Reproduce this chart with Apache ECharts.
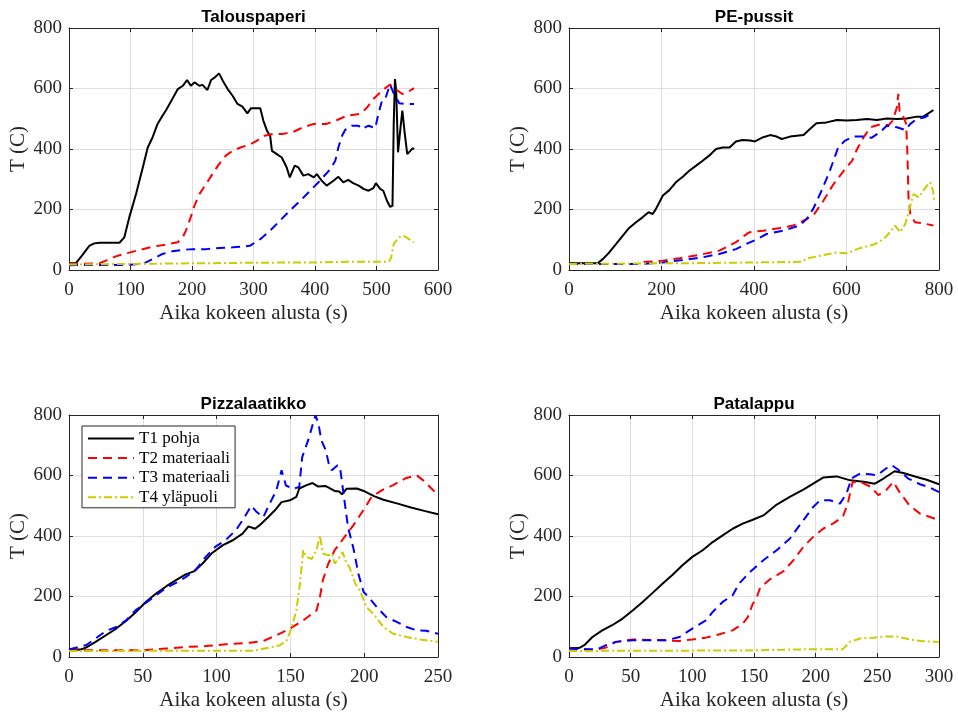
<!DOCTYPE html>
<html>
<head>
<meta charset="utf-8">
<script src="https://cdn.jsdelivr.net/npm/echarts@6/dist/echarts.min.js"></script>
<style>html,body{margin:0;padding:0;background:#fff}#c{width:958px;height:712px}</style>
</head>
<body>
<div id="c"></div>
<script>
// ---- data ----
const seriesNames = ['T1 pohja', 'T2 materiaali', 'T3 materiaali', 'T4 yläpuoli'];
const plotTitles = ['Talouspaperi', 'PE-pussit', 'Pizzalaatikko', 'Patalappu'];
const xMax = [600, 800, 250, 300];
const xInterval = [100, 200, 50, 50];
const yTicks = [0, 200, 400, 600, 800];

const taloT1 = [[0,22],[11,22],[22,50],[33,80],[41,88],[50,90],[82,90],[90,108],[98,174],[109,251],[120,339],[128,405],[136,439],[144,483],[152,510],[158,529],[168,565],[177,598],[185,609],[192,628],[198,609],[204,620],[212,609],[217,612],[225,595],[231,628],[236,635],[244,650],[250,626],[258,598],[266,576],[274,549],[282,540],[290,518],[296,535],[311,535],[316,494],[322,460],[327,444],[330,394],[338,383],[346,372],[354,339],[359,306],[367,345],[373,339],[381,312],[389,317],[398,306],[403,317],[411,295],[419,279],[430,295],[438,308],[446,290],[454,298],[462,287],[471,279],[479,268],[487,262],[495,271],[499,287],[506,268],[511,262],[517,229],[522,209],[526,212],[528,483],[530,631],[532,593],[535,389],[538,450],[542,527],[546,450],[550,383],[555,394],[559,403],[561,399]];
const taloT2 = [[0,20],[49,22],[60,31],[76,45],[93,55],[114,66],[136,77],[158,84],[177,92],[185,108],[190,130],[196,163],[204,213],[212,251],[223,284],[233,317],[244,350],[255,378],[266,394],[279,405],[294,415],[305,427],[318,444],[332,450],[348,450],[365,457],[381,472],[398,483],[419,483],[436,496],[452,510],[474,516],[485,538],[495,565],[509,593],[522,613],[531,598],[542,582],[550,587],[561,601]];
const taloT3 = [[0,16],[100,17],[122,22],[136,36],[152,53],[168,62],[182,66],[201,69],[223,69],[244,73],[266,75],[282,77],[294,80],[311,102],[327,130],[343,163],[359,196],[376,229],[392,262],[408,295],[425,334],[433,361],[438,405],[444,444],[449,463],[460,477],[471,477],[476,466],[487,477],[498,469],[503,516],[509,560],[514,565],[522,613],[528,584],[537,551],[547,549],[561,549]];
const taloT4 = [[0,18],[100,20],[200,22],[300,24],[400,25],[450,27],[520,27],[524,42],[528,86],[536,108],[544,113],[553,102],[561,92]];

const peT1 = [[0,22],[62,22],[73,36],[87,58],[102,86],[116,113],[130,139],[145,158],[159,174],[172,191],[181,185],[188,202],[203,246],[217,264],[231,290],[246,308],[260,328],[275,345],[289,361],[303,378],[318,400],[332,405],[347,405],[361,425],[375,430],[392,428],[402,425],[420,439],[435,446],[449,441],[460,433],[478,441],[507,446],[521,466],[535,485],[557,488],[579,496],[601,494],[622,496],[644,499],[666,496],[687,501],[709,499],[730,501],[752,507],[766,507],[777,518],[788,529]];
const peT2 = [[0,20],[150,20],[159,26],[203,31],[239,39],[282,50],[325,64],[361,92],[386,121],[391,125],[420,130],[456,139],[485,147],[507,163],[528,180],[550,229],[572,284],[594,328],[612,361],[623,400],[638,441],[652,472],[670,480],[691,479],[700,494],[709,538],[712,582],[715,521],[720,516],[725,499],[729,483],[732,372],[734,240],[738,185],[748,158],[766,154],[788,147]];
const peT3 = [[0,20],[160,20],[203,25],[246,33],[289,42],[325,53],[361,69],[386,88],[404,100],[427,119],[463,130],[499,147],[514,169],[528,202],[546,262],[564,328],[582,405],[596,427],[614,441],[638,441],[654,437],[672,455],[687,477],[709,472],[727,463],[738,483],[752,499],[770,505],[781,516]];
const peT4 = [[0,20],[300,23],[400,25],[503,27],[517,39],[543,47],[579,58],[601,55],[630,73],[659,84],[680,102],[694,125],[705,147],[716,125],[727,152],[738,213],[745,251],[756,240],[766,262],[774,279],[781,290],[787,262],[790,224]];

const pizT1 = [[0,25],[8,25],[11.5,31],[18,50],[25,72],[32,94],[38.6,119],[45.4,149],[52,182],[59,210],[66,234],[72.5,254],[79,273],[85,284],[90.5,309],[97,344],[104,369],[111,386],[117.6,408],[121.6,432],[126,424],[129,435],[135,463],[139.5,485],[144,512],[149.7,518],[154,529],[156,557],[161,568],[165,575],[168.6,564],[174,565],[180,549],[183,547],[185,538],[188,556],[195,557],[200.6,547],[207,531],[213,520],[222.7,507],[231.7,494],[240.7,483],[250,472]];
const pizT2 = [[0,22],[50,22],[66,28],[79,33],[92.6,36],[106,42],[122.6,47],[131.6,53],[140.7,72],[149.7,94],[158.7,121],[167.7,154],[170,198],[172,254],[175.7,309],[180,353],[185.8,391],[192.6,435],[199.4,485],[205,529],[211.8,551],[219.6,568],[227.6,590],[235.5,601],[240,584],[245.6,557],[250,535]];
const pizT3 = [[0,25],[11.5,39],[18,61],[25,86],[32,99],[38.6,121],[45,154],[52,179],[59,204],[66,229],[72.5,245],[79,264],[86,289],[92.6,331],[99,364],[106,386],[113,419],[117.6,452],[123.5,500],[127,480],[131.6,462],[136,507],[140.5,551],[144,617],[147,567],[151.6,556],[156,562],[158,661],[162,716],[164.6,760],[167,799],[169,771],[171,716],[174,683],[176,639],[178,617],[182,634],[183.6,628],[186,540],[189,430],[193,353],[196,276],[199.6,215],[203,198],[208.5,165],[215,132],[222,116],[228.8,99],[235.6,88],[242,87],[250,77]];
const pizT4 = [[0,20],[125,21],[136,31],[143,39],[147.5,55],[151,99],[154,154],[156.5,243],[158.7,353],[161,331],[164.4,324],[167.7,353],[170,402],[172,342],[175.7,336],[178,342],[180,309],[182.5,324],[185.4,347],[188,309],[190,298],[194,243],[197,220],[201.6,165],[207,138],[213,99],[219.6,77],[228.8,66],[237.8,58],[250,50]];

const pataT1 = [[0,30],[8.4,30],[12.4,39],[19,66],[27,88],[35,105],[43.5,127],[51.6,154],[59.7,182],[67.8,212],[76,243],[84,272],[92,303],[100,331],[108.4,353],[116.5,380],[124.6,402],[132.7,424],[140.8,441],[148,452],[157.6,468],[168.4,504],[179,529],[190,553],[198,573],[206,593],[217,597],[228,584],[238.7,579],[248,573],[255,590],[264,614],[271,608],[281.9,595],[290,586],[300,571]];
const pataT2 = [[0,28],[22,24],[30,31],[38,50],[51.6,58],[78.7,55],[89.6,53],[100,58],[111,64],[122,75],[132.7,88],[140.8,110],[145,132],[149,176],[151.6,190],[155,229],[163,257],[174,284],[182,320],[190,364],[198,397],[206,424],[214,441],[222,463],[226,507],[230,579],[238.7,574],[245,562],[250.8,535],[257,551],[263,579],[268,545],[276,501],[284.6,474],[292.8,463],[300,452]];
const pataT3 = [[0,28],[22,24],[30,39],[38,50],[51.6,55],[65,55],[78.7,55],[89.6,66],[100,94],[111,121],[116.5,149],[124.6,182],[132.7,204],[138,243],[146,278],[157.6,320],[168.4,353],[179,391],[190,452],[198,496],[203.5,518],[211.6,518],[219.7,507],[225,540],[229,590],[236,606],[244,604],[250,601],[257,623],[261.8,634],[267,619],[275,590],[284.6,571],[292.8,560],[300,545]];
const pataT4 = [[0,20],[100,21],[150,22],[174,24],[200,26],[222,26],[227.8,50],[236,61],[246.8,64],[257.6,68],[265.8,68],[276.5,58],[287,52],[300,50]];

const plotData = [
  [taloT1, taloT2, taloT3, taloT4],
  [peT1, peT2, peT3, peT4],
  [pizT1, pizT2, pizT3, pizT4],
  [pataT1, pataT2, pataT3, pataT4]
];

// ---- styling / layout ----
const SERIF = "'Liberation Serif','Times New Roman',serif";
const SANS = "'Liberation Sans',Arial,sans-serif";
const AX = '#262626';
const gridBoxes = [
  {left: 69, top: 28, width: 369, height: 242},
  {left: 569, top: 28, width: 370, height: 242},
  {left: 69, top: 415, width: 369, height: 242},
  {left: 569, top: 415, width: 370, height: 242}
];
const lineStyles = [
  {color: '#000000', width: 2, type: 'solid'},
  {color: '#ff0000', width: 2, type: [9, 6]},
  {color: '#0000ff', width: 2, type: [9, 6]},
  {color: '#cccc00', width: 2, type: [8, 3, 2, 3]}
];

const xAxis = [], yAxis = [], series = [], graphic = [];
gridBoxes.forEach((g, gi) => {
  const common = {type: 'value', gridIndex: gi};
  xAxis.push(Object.assign({}, common, {
    min: 0, max: xMax[gi], interval: xInterval[gi], position: 'bottom',
    name: 'Aika kokeen alusta (s)', nameLocation: 'middle', nameGap: 33,
    nameTextStyle: {fontFamily: SERIF, fontSize: 21, color: AX},
    axisLine: {show: true, onZero: false, lineStyle: {color: AX, width: 1}},
    axisTick: {show: true, inside: true, length: 4, lineStyle: {color: AX}},
    axisLabel: {fontFamily: SERIF, fontSize: 19, color: AX, margin: 11},
    splitLine: {show: true, lineStyle: {color: '#dedede', width: 1}}
  }));
  xAxis.push(Object.assign({}, common, {
    min: 0, max: xMax[gi], interval: xInterval[gi], position: 'top',
    axisLine: {show: true, onZero: false, lineStyle: {color: AX, width: 1}},
    axisTick: {show: true, inside: true, length: 4, lineStyle: {color: AX}},
    axisLabel: {show: false}, splitLine: {show: false}
  }));
  yAxis.push(Object.assign({}, common, {
    min: yTicks[0], max: yTicks[yTicks.length - 1], interval: yTicks[1] - yTicks[0], position: 'left',
    name: 'T (C)', nameLocation: 'middle', nameGap: 40,
    nameTextStyle: {fontFamily: SERIF, fontSize: 21, color: AX},
    axisLine: {show: true, onZero: false, lineStyle: {color: AX, width: 1}},
    axisTick: {show: true, inside: true, length: 4, lineStyle: {color: AX}},
    axisLabel: {fontFamily: SERIF, fontSize: 19, color: AX, margin: 7},
    splitLine: {show: true, lineStyle: {color: '#dedede', width: 1}}
  }));
  yAxis.push(Object.assign({}, common, {
    min: yTicks[0], max: yTicks[yTicks.length - 1], interval: yTicks[1] - yTicks[0], position: 'right',
    axisLine: {show: true, onZero: false, lineStyle: {color: AX, width: 1}},
    axisTick: {show: true, inside: true, length: 4, lineStyle: {color: AX}},
    axisLabel: {show: false}, splitLine: {show: false}
  }));
  plotData[gi].forEach((d, si) => {
    series.push({
      type: 'line', name: seriesNames[si], data: d,
      xAxisIndex: gi * 2, yAxisIndex: gi * 2,
      symbol: 'none', showSymbol: false, clip: true,
      lineStyle: lineStyles[si], itemStyle: {color: lineStyles[si].color},
      z: 2 + si
    });
  });
  graphic.push({
    type: 'text', x: g.left + g.width / 2, y: g.top - 11,
    style: {text: plotTitles[gi], align: 'center', verticalAlign: 'middle',
      font: 'bold 17px ' + SANS, fill: '#000'}
  });
});

const chart = echarts.init(document.getElementById('c'), null, {renderer: 'canvas'});
chart.setOption({
  animation: false,
  backgroundColor: '#ffffff',
  grid: gridBoxes.map(g => Object.assign({show: false, containLabel: false}, g)),
  xAxis, yAxis, series, graphic,
  legend: {
    orient: 'vertical', left: 82, top: 426,
    data: seriesNames,
    itemWidth: 46, itemHeight: 12, itemGap: 2.6,
    padding: [4, 5, 2, 5],
    itemStyle: {opacity: 0, borderWidth: 0},
    borderColor: AX, borderWidth: 1, backgroundColor: '#ffffff',
    textStyle: {fontFamily: SERIF, fontSize: 17, color: '#000', lineHeight: 17}
  }
});
</script>
</body>
</html>
